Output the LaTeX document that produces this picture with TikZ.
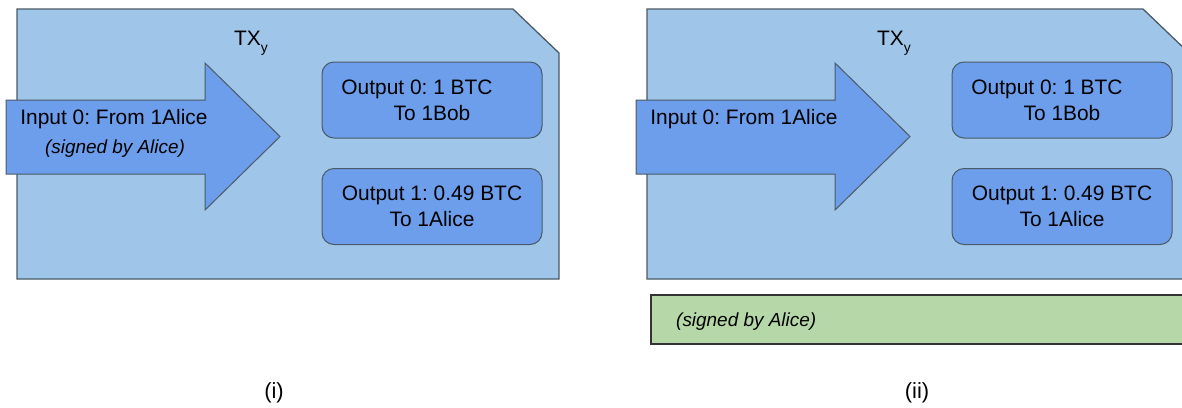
\documentclass[tikz,border=0pt]{standalone}
\usepackage{fontspec}
\setmainfont{Liberation Sans}
\frenchspacing
\definecolor{panelblue}{HTML}{9FC5E8}
\definecolor{boxblue}{HTML}{6D9EEB}
\definecolor{siggreen}{HTML}{B6D7A8}
\definecolor{edge}{HTML}{4A5A66}
\definecolor{greenedge}{HTML}{333333}
\tikzset{
  panel/.style={fill=panelblue, draw=edge, line width=1.3bp, line join=miter},
  arrowshape/.style={fill=boxblue, draw=edge, line width=1bp, line join=miter},
  outbox/.style={fill=boxblue, draw=edge, line width=1bp, rounded corners=12bp,
    minimum width=220bp, minimum height=76bp, align=center, inner sep=0pt,
    font=\fontsize{21}{26}\selectfont},
  maintext/.style={font=\fontsize{21}{26}\selectfont, inner sep=0pt, anchor=base},
  signtext/.style={font=\fontsize{19}{23}\selectfont\itshape, inner sep=0pt, anchor=base},
  sigbox/.style={fill=siggreen, draw=greenedge, line width=1.3bp},
  caption/.style={font=\fontsize{22}{26}\selectfont, inner sep=0pt},
}
\begin{document}
\begin{tikzpicture}[x=1bp,y=-1bp]
\useasboundingbox (0,0) rectangle (1182,407);
\clip (0,0) rectangle (1182,407);
% ---- panel (i)
\draw[panel] (17,9) -- (513,9) -- (559,53) -- (559,279) -- (17,279) -- cycle;
\draw[arrowshape] (6,100) -- (205,100) -- (205,63) -- (280,136.5) -- (205,210) -- (205,174) -- (6,174) -- cycle;
\node[maintext] (txa) at (251,45) {TX\raisebox{-7bp}{\fontsize{14}{14}\selectfont y}};
\node[maintext] (inA) at (114,124) {Input 0: From 1Alice};
\node[signtext] (sigA) at (115,153) {(signed by Alice)};
\node[outbox] (oA0) at (432,100) {Output 0: 1 BTC\hspace*{30bp}\\To 1Bob};
\node[outbox] (oA1) at (432,206.5) {Output 1: 0.49 BTC\\To 1Alice};
\node[caption] (capA) at (274,393) {(i)};
% ---- panel (ii)
\begin{scope}[xshift=630bp]
\draw[panel] (17,9) -- (513,9) -- (559,53) -- (559,279) -- (17,279) -- cycle;
\draw[arrowshape] (6,100) -- (205,100) -- (205,63) -- (280,136.5) -- (205,210) -- (205,174) -- (6,174) -- cycle;
\node[maintext] (txb) at (264,45) {TX\raisebox{-7bp}{\fontsize{14}{14}\selectfont y}};
\node[maintext] (inB) at (114,124) {Input 0: From 1Alice};
\node[outbox] (oB0) at (432,100) {Output 0: 1 BTC\hspace*{30bp}\\To 1Bob};
\node[outbox] (oB1) at (432,206.5) {Output 1: 0.49 BTC\\To 1Alice};
\draw[sigbox] (21,295) rectangle (600,344);
\node[signtext, anchor=base west] (sigB) at (46,326) {(signed by Alice)};
\node[caption] (capB) at (287,393) {(ii)};
\end{scope}
\end{tikzpicture}
\end{document}
